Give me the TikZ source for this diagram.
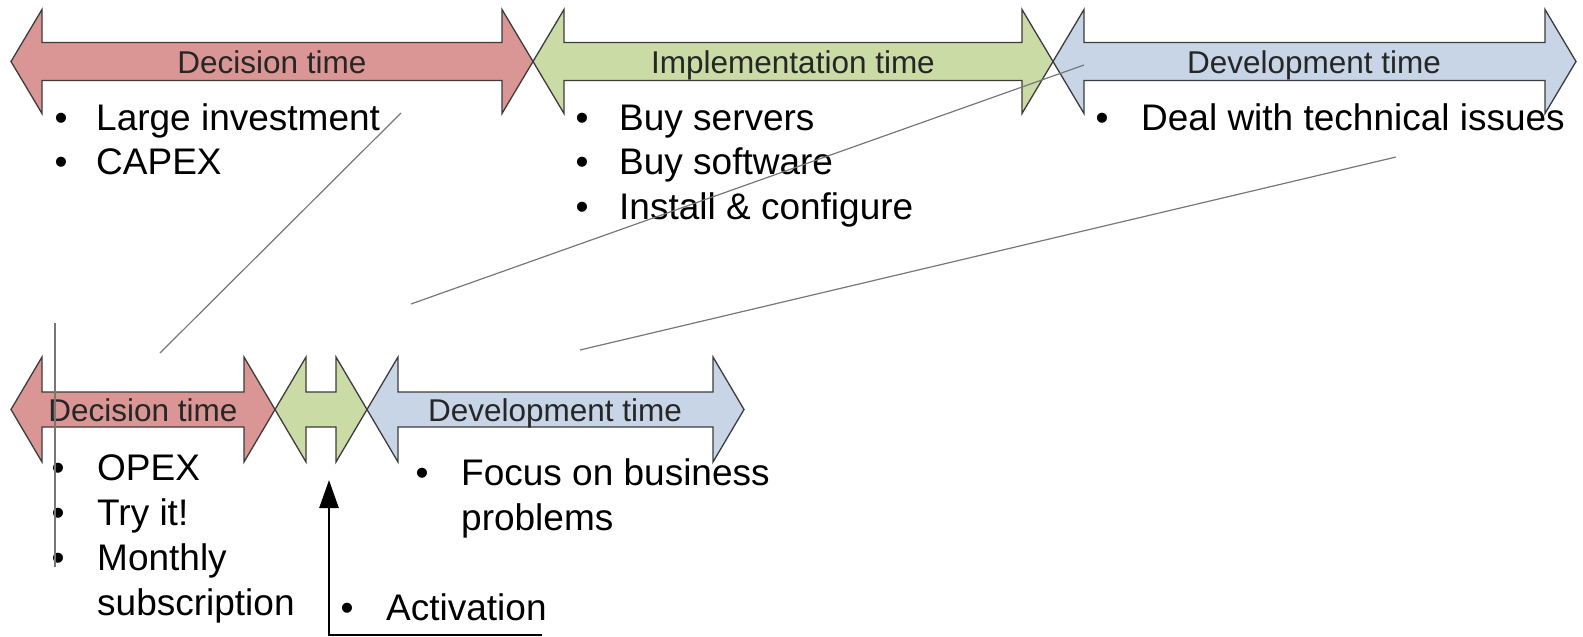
\documentclass[tikz,border=0pt]{standalone}
\usepackage{fontspec}
\setmainfont{Liberation Sans}
\usetikzlibrary{arrows.meta}
\definecolor{phasered}{HTML}{DA9694}
\definecolor{phasegreen}{HTML}{CADBA6}
\definecolor{phaseblue}{HTML}{C7D5E6}
\definecolor{outline}{HTML}{3C3C3C}
\definecolor{guidegray}{HTML}{777777}

% double-headed block arrow: style, left tip x, right tip x, centre y, head half-height, shaft half-height
\newcommand\blockarrow[6]{%
  \draw[phaseshape,#1] (#2,#4) -- ({#2+31},{#4-#5}) -- ({#2+31},{#4-#6})
    -- ({#3-31},{#4-#6}) -- ({#3-31},{#4-#5}) -- (#3,#4)
    -- ({#3-31},{#4+#5}) -- ({#3-31},{#4+#6}) -- ({#2+31},{#4+#6})
    -- ({#2+31},{#4+#5}) -- cycle;}

% one bullet line: name, bullet x, text x, baseline y, text
\newcommand\bitem[5]{%
  \node[bulletmark] (#1b) at (#2,#4) {•};
  \node[itemtext] (#1) at (#3,#4) {#5};}

\begin{document}
\begin{tikzpicture}[x=1pt,y=-1pt,
  phaseshape/.style={draw=outline,line width=1.3pt,line join=miter},
  redphase/.style={fill=phasered},
  greenphase/.style={fill=phasegreen},
  bluephase/.style={fill=phaseblue},
  phaselabel/.style={anchor=base,inner sep=0pt,text=black!85,
    font=\fontsize{31.5}{37}\selectfont},
  bulletmark/.style={anchor=base,inner sep=0pt,font=\fontsize{37}{44}\selectfont},
  itemtext/.style={anchor=base west,inner sep=0pt,font=\fontsize{37}{44}\selectfont},
  guide/.style={draw=guidegray,line width=1.2pt},
  pointer/.style={draw=black,line width=2.6pt,-{Triangle[length=28pt,width=19pt]}}]
\useasboundingbox (0,0) rectangle (1583,637);

% ---- traditional timeline ----
\blockarrow{redphase}{11}{533}{61.5}{52}{19}
\blockarrow{greenphase}{533}{1053}{61.5}{52}{19}
\blockarrow{bluephase}{1053}{1576}{61.5}{52}{19}
\node[phaselabel] (tdec) at (272,73) {Decision time};
\node[phaselabel] (timp) at (793,73) {Implementation time};
\node[phaselabel] (tdev) at (1314,73) {Development time};

\bitem{ta1}{61}{96}{130}{Large investment}
\bitem{ta2}{61}{96}{174.5}{CAPEX}
\bitem{tb1}{582}{619}{130}{Buy servers}
\bitem{tb2}{582}{619}{174.5}{Buy software}
\bitem{tb3}{582}{619}{219}{Install \& configure}
\bitem{tc1}{1102}{1141}{130}{Deal with technical issues}

% ---- cloud timeline ----
\blockarrow{redphase}{11}{275}{409.5}{52.5}{17.5}
\blockarrow{greenphase}{275}{367}{409.5}{52.5}{17.5}
\blockarrow{bluephase}{367}{744}{409.5}{52.5}{17.5}
\node[phaselabel] (cdec) at (143,421) {Decision time};
\node[phaselabel] (cdev) at (555,421) {Development time};

\bitem{ca1}{58}{97}{480}{OPEX}
\bitem{ca2}{58}{97}{525}{Try it!}
\bitem{ca3}{58}{97}{570}{Monthly}
\node[itemtext] (ca4) at (97,615) {subscription};
\bitem{cb1}{422}{461}{485}{Focus on business}
\node[itemtext] (cb2) at (461,530) {problems};
\bitem{cc1}{347}{386}{620}{Activation}

% ---- guide lines ----
\coordinate (g1a) at (401,113);  \coordinate (g1b) at (160,353);
\coordinate (g2a) at (1084,65);  \coordinate (g2b) at (411,304);
\coordinate (g3a) at (1396,157); \coordinate (g3b) at (580,350);
\coordinate (g4a) at (55,323);   \coordinate (g4b) at (55,567);
\draw[guide] (g1a) -- (g1b);
\draw[guide] (g2a) -- (g2b);
\draw[guide] (g3a) -- (g3b);
\draw[guide] (g4a) -- (g4b);

% ---- activation pointer ----
\coordinate (actend) at (542,635);
\coordinate (actcorner) at (329,635);
\coordinate (acttip) at (329,480);
\draw[pointer] (actend) -- (actcorner) -- (acttip);
\end{tikzpicture}
\end{document}
